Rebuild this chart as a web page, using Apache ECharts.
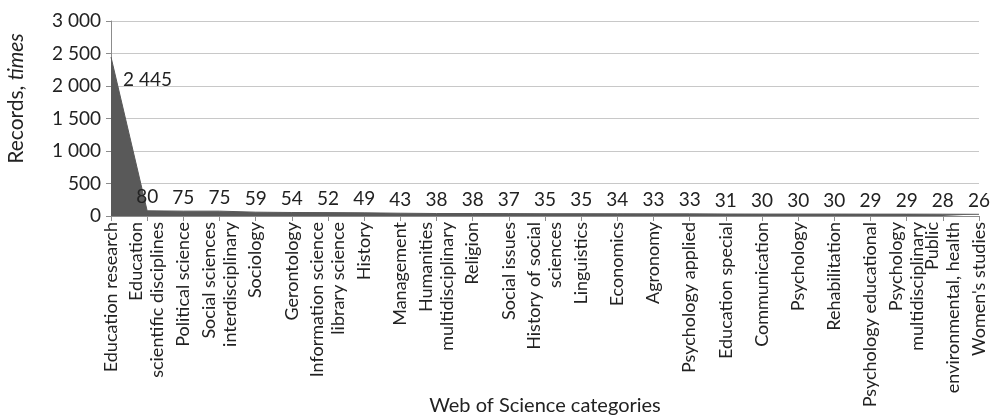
<!DOCTYPE html>
<html>
<head>
<meta charset="utf-8">
<script src="https://cdn.jsdelivr.net/npm/echarts@6/dist/echarts.min.js"></script>
<style>
  html, body { margin: 0; padding: 0; background: #fff; }
  #chart { width: 999px; height: 415px; }
</style>
</head>
<body>
<div id="chart"></div>
<script>
// categories on the x axis
const categories = [
  'Education research',
  'Education\nscientific disciplines',
  'Political science',
  'Social sciences\ninterdisciplinary',
  'Sociology',
  'Gerontology',
  'Information science\nlibrary science',
  'History',
  'Management',
  'Humanities\nmultidisciplinary',
  'Religion',
  'Social issues',
  'History of social\nsciences',
  'Linguistics',
  'Economics',
  'Agronomy',
  'Psychology applied',
  'Education special',
  'Communication',
  'Psychology',
  'Rehabilitation',
  'Psychology educational',
  'Psychology\nmultidisciplinary',
  'Public\nenvironmental, health',
  "Women's studies"
]
// records per category
const records = [2445, 80, 75, 75, 59, 54, 52, 49, 43, 38, 38, 37, 35, 35, 34, 33, 33, 31, 30, 30, 30, 29, 29, 28, 26]
const yTicks = [0, 500, 1000, 1500, 2000, 2500, 3000]

const fmt = v => String(v).replace(/\B(?=(\d{3})+(?!\d))/g, ' ')
const font = 'Lato'

const chart = echarts.init(document.getElementById('chart'))

const seriesData = records.map((v, i) => {
  if (i === 0) {
    return { value: v, label: { position: 'right', distance: 5, offset: [7, 23] } }
  }
  return v
})

chart.setOption({
  animation: false,
  textStyle: { fontFamily: font },
  grid: { left: 111, right: 20, top: 21, bottom: 199, containLabel: false, outerBoundsMode: 'none' },
  xAxis: {
    type: 'category',
    data: categories,
    boundaryGap: false,
    name: 'Web of Science categories',
    nameLocation: 'middle',
    nameGap: 180,
    nameMoveOverlap: false,
    nameTextStyle: { fontFamily: font, fontSize: 20, color: '#222' },
    axisLine: { lineStyle: { color: '#8c8c8c' } },
    axisTick: { show: true, length: 5, lineStyle: { color: '#8c8c8c' } },
    axisLabel: {
      rotate: 90,
      interval: 0,
      fontFamily: font,
      fontSize: 18,
      color: '#222',
      lineHeight: 21,
      margin: 6
    }
  },
  yAxis: {
    type: 'value',
    min: yTicks[0],
    max: yTicks[yTicks.length - 1],
    interval: 500,
    name: '{a|Records, }{b|times}',
    nameLocation: 'middle',
    nameGap: 84,
    nameRotate: 90,
    nameTextStyle: {
      padding: [0, 0, 0, 40],
      rich: {
        a: { fontFamily: font, fontSize: 21, color: '#222' },
        b: { fontFamily: font, fontSize: 21, color: '#222', fontStyle: 'italic' }
      }
    },
    axisLine: { show: true, lineStyle: { color: '#8c8c8c' } },
    axisTick: { show: true, length: 5, lineStyle: { color: '#8c8c8c' } },
    splitLine: { lineStyle: { color: '#c8c8c8' } },
    axisLabel: {
      fontFamily: font,
      fontSize: 19,
      color: '#222',
      margin: 10,
      formatter: v => fmt(v)
    }
  },
  series: [{
    type: 'line',
    data: seriesData,
    showSymbol: true,
    symbol: 'circle',
    symbolSize: 0,
    lineStyle: { color: '#595959', width: 1 },
    itemStyle: { color: '#595959' },
    areaStyle: { color: '#595959', opacity: 1 },
    label: {
      show: true,
      position: 'top',
      distance: 4,
      fontFamily: font,
      fontSize: 19,
      color: '#222',
      formatter: p => fmt(p.value)
    }
  }]
})
</script>
</body>
</html>
